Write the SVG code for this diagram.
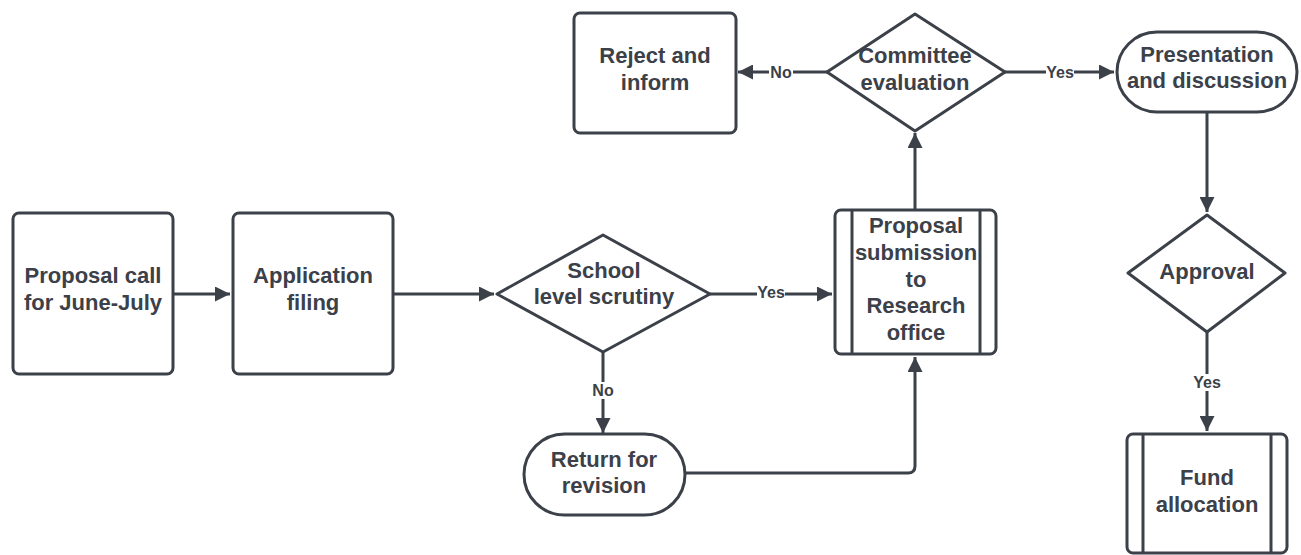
<svg xmlns="http://www.w3.org/2000/svg" width="1301" height="555" viewBox="0 0 1301 555">
<defs>
<style>
.s{fill:#fff;stroke:#3b4049;stroke-width:3;stroke-linejoin:round}
.t{font-family:"Liberation Sans",Arial,sans-serif;font-weight:bold;font-size:22px;fill:#3b4049;text-anchor:middle}
.l{font-family:"Liberation Sans",Arial,sans-serif;font-weight:bold;font-size:16px;fill:#3b4049;text-anchor:middle}
.c{fill:none;stroke:#3b4049;stroke-width:3}
</style>
<marker id="a" viewBox="0 0 10 10" refX="10" refY="5" markerWidth="5" markerHeight="5" markerUnits="strokeWidth" orient="auto">
<path d="M0,0 L10,5 L0,10 Z" fill="#3b4049"/>
</marker>
</defs>
<rect width="1301" height="555" fill="#fff"/>
<g id="connectors">
<path class="c" d="M173,294 H230" marker-end="url(#a)"/>
<path class="c" d="M393,294 H494" marker-end="url(#a)"/>
<path class="c" d="M710,294 H832" marker-end="url(#a)"/>
<path class="c" d="M603,352 V433" marker-end="url(#a)"/>
<path class="c" d="M685,473 H908 Q915,473 915,466 V357" marker-end="url(#a)"/>
<path class="c" d="M915,210 V133" marker-end="url(#a)"/>
<path class="c" d="M827,72 H738" marker-end="url(#a)"/>
<path class="c" d="M1005,72 H1114" marker-end="url(#a)"/>
<path class="c" d="M1207,112 V212" marker-end="url(#a)"/>
<path class="c" d="M1207,332 V431" marker-end="url(#a)"/>
<rect x="757" y="284" width="28" height="17" fill="#fff"/>
<text class="l" x="771" y="298">Yes</text>
<rect x="591" y="382" width="24" height="17" fill="#fff"/>
<text class="l" x="603" y="396">No</text>
<rect x="769" y="64" width="24" height="17" fill="#fff"/>
<text class="l" x="781" y="78">No</text>
<rect x="1046" y="64" width="28" height="17" fill="#fff"/>
<text class="l" x="1060" y="78">Yes</text>
<rect x="1193" y="374" width="28" height="17" fill="#fff"/>
<text class="l" x="1207" y="388">Yes</text>
</g>
<g id="n1">
<rect class="s" x="13" y="213" width="160" height="161" rx="6"/>
<text class="t" x="93" y="283">Proposal call</text>
<text class="t" x="93" y="310">for June-July</text>
</g>
<g id="n2">
<rect class="s" x="233" y="213" width="160" height="161" rx="6"/>
<text class="t" x="313" y="283">Application</text>
<text class="t" x="313" y="310">filing</text>
</g>
<g id="n3">
<path class="s" d="M497,294 L603,235 L710,294 L603,352 Z"/>
<text class="t" x="604" y="278">School</text>
<text class="t" x="604" y="304">level scrutiny</text>
</g>
<g id="n4">
<rect class="s" x="835" y="210" width="161" height="144" rx="6"/>
<line class="c" x1="852" y1="210" x2="852" y2="354"/>
<line class="c" x1="980" y1="210" x2="980" y2="354"/>
<text class="t" x="916" y="233">Proposal</text>
<text class="t" x="916" y="260">submission</text>
<text class="t" x="916" y="287">to</text>
<text class="t" x="916" y="313">Research</text>
<text class="t" x="916" y="340">office</text>
</g>
<g id="n5">
<rect class="s" x="524" y="434" width="161" height="81" rx="40.5"/>
<text class="t" x="604" y="467">Return for</text>
<text class="t" x="604" y="493">revision</text>
</g>
<g id="n6">
<path class="s" d="M827,72 L915,14 L1005,72 L915,131 Z"/>
<text class="t" x="915" y="63">Committee</text>
<text class="t" x="915" y="90">evaluation</text>
</g>
<g id="n7">
<rect class="s" x="574" y="13" width="162" height="120" rx="6"/>
<text class="t" x="655" y="63">Reject and</text>
<text class="t" x="655" y="90">inform</text>
</g>
<g id="n8">
<rect class="s" x="1117" y="32" width="180" height="80" rx="40"/>
<text class="t" x="1207" y="62">Presentation</text>
<text class="t" x="1207" y="88">and discussion</text>
</g>
<g id="n9">
<path class="s" d="M1128,273 L1207,215 L1285,273 L1207,332 Z"/>
<text class="t" x="1207" y="279">Approval</text>
</g>
<g id="n10">
<rect class="s" x="1127" y="434" width="160" height="119" rx="6"/>
<line class="c" x1="1143" y1="434" x2="1143" y2="553"/>
<line class="c" x1="1271" y1="434" x2="1271" y2="553"/>
<text class="t" x="1207" y="485">Fund</text>
<text class="t" x="1207" y="512">allocation</text>
</g>
</svg>
